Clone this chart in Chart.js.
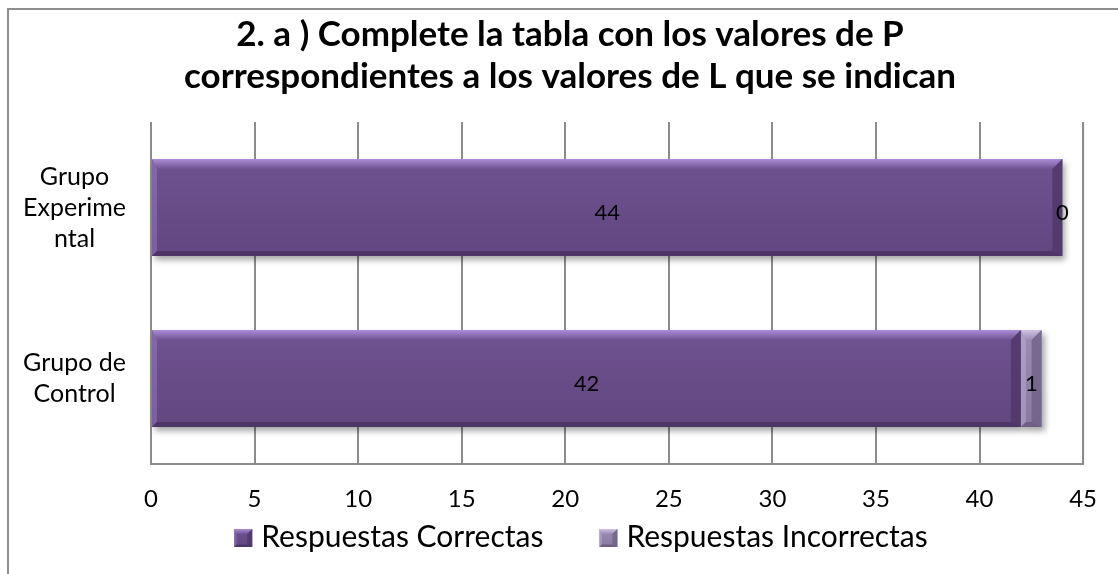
<!DOCTYPE html>
<html>
<head>
<meta charset="utf-8">
<script src="https://cdn.jsdelivr.net/npm/chart.js@4.4.0/dist/chart.umd.min.js"></script>
<style>
  html, body { margin: 0; padding: 0; background: #fff; overflow: hidden; }
  #marco { position: absolute; left: 7px; top: 8px; width: 1200px; height: 700px;
           border-left: 2px solid #8e8e8e; border-top: 2px solid #8e8e8e; }
  #wrap { position: absolute; left: 0; top: 0; width: 1118px; height: 574px; }
</style>
</head>
<body>
<div id="marco"></div>
<div id="wrap"><canvas id="grafico" width="1118" height="574"></canvas></div>
<script>
var grupos = [["Grupo", "Experime", "ntal"], ["Grupo de", "Control"]];
var correctas = [44, 42];
var incorrectas = [0, 1];
var titulo = ["2. a ) Complete la tabla con los valores de P", "correspondientes a los valores de L que se indican"];
var fuente = "Lato, 'Open Sans', sans-serif";

// colores: base, bisel claro, bisel oscuro
var tonos = [
    { base: "#6f5291", luz: "#ab8dd9", sombra: "#4d3566" },
    { base: "#9c8bb3", luz: "#cfc2e2", sombra: "#6e5f85" }
];

function biselar(ctx, l, tp, r, b, t, bv) {
    var w = r - l, h = b - tp;
    if (w < 1) return;
    bv = Math.min(bv, w / 2, h / 2);
    var grad = ctx.createLinearGradient(0, tp, 0, b);
    grad.addColorStop(0, t.base);
    grad.addColorStop(1, t.sombra);
    ctx.save();
    ctx.fillStyle = t.base;
    ctx.fillRect(l, tp, w, h);
    ctx.globalAlpha = 0.4;
    ctx.fillStyle = grad;
    ctx.fillRect(l, tp, w, h);
    // arriba
    var gl = ctx.createLinearGradient(0, tp, 0, tp + bv);
    gl.addColorStop(0, t.luz);
    gl.addColorStop(1, t.base);
    ctx.globalAlpha = 1;
    ctx.fillStyle = gl;
    ctx.beginPath();
    ctx.moveTo(l, tp); ctx.lineTo(r, tp); ctx.lineTo(r - bv, tp + bv); ctx.lineTo(l + bv / 2, tp + bv);
    ctx.closePath(); ctx.fill();
    // izquierda
    ctx.globalAlpha = 0.35;
    ctx.fillStyle = t.luz;
    ctx.beginPath();
    ctx.moveTo(l, tp); ctx.lineTo(l + bv / 2, tp + bv); ctx.lineTo(l + bv / 2, b - bv / 2); ctx.lineTo(l, b);
    ctx.closePath(); ctx.fill();
    // abajo y derecha
    ctx.globalAlpha = 1;
    ctx.fillStyle = t.sombra;
    ctx.beginPath();
    ctx.moveTo(l, b); ctx.lineTo(r, b); ctx.lineTo(r - bv, b - bv / 2); ctx.lineTo(l + bv / 2, b - bv / 2);
    ctx.closePath(); ctx.fill();
    ctx.globalAlpha = 0.75;
    ctx.beginPath();
    ctx.moveTo(r, tp); ctx.lineTo(r, b); ctx.lineTo(r - bv, b - bv / 2); ctx.lineTo(r - bv, tp + bv);
    ctx.closePath(); ctx.fill();
    ctx.restore();
}

var barras3d = {
    id: "barras3d",
    afterLayout: function (chart) {
        // el titulo va centrado sobre el marco, no sobre todo el lienzo
        chart.titleBlock.left = 22;
        chart.titleBlock.right = chart.width;
    },
    beforeDraw: function (chart) {
        // marco del area de trazado
        var a = chart.chartArea, ctx = chart.ctx;
        ctx.save();
        ctx.strokeStyle = "#8c8c8c";
        ctx.lineWidth = 2;
        ctx.beginPath();
        ctx.moveTo(a.left, a.top); ctx.lineTo(a.left, a.bottom);
        ctx.lineTo(a.right, a.bottom); ctx.lineTo(a.right, a.top);
        ctx.stroke();
        ctx.restore();
    },
    beforeDatasetsDraw: function (chart) {
        var ctx = chart.ctx;
        ctx.save();
        ctx.shadowColor = "rgba(0,0,0,0.35)";
        ctx.shadowBlur = 6;
        ctx.shadowOffsetX = 3;
        ctx.shadowOffsetY = 4;
        ctx.fillStyle = "#ffffff";
        chart.data.datasets.forEach(function (ds, i) {
            chart.getDatasetMeta(i).data.forEach(function (bar) {
                var p = bar.getProps(["x", "y", "base", "height"], true);
                var l = Math.min(p.x, p.base), r = Math.max(p.x, p.base);
                if (r - l < 1) return;
                ctx.fillRect(l, p.y - p.height / 2, r - l, p.height);
            });
        });
        ctx.restore();
    },
    afterDatasetsDraw: function (chart) {
        var ctx = chart.ctx;
        chart.data.datasets.forEach(function (ds, i) {
            chart.getDatasetMeta(i).data.forEach(function (bar) {
                var p = bar.getProps(["x", "y", "base", "height"], true);
                var l = Math.min(p.x, p.base), r = Math.max(p.x, p.base);
                biselar(ctx, l, p.y - p.height / 2, r, p.y + p.height / 2, tonos[i], 10);
            });
        });
        // etiquetas de valor
        ctx.save();
        ctx.fillStyle = "#000";
        ctx.font = "22px " + fuente;
        ctx.textAlign = "center";
        ctx.textBaseline = "middle";
        chart.data.datasets.forEach(function (ds, i) {
            chart.getDatasetMeta(i).data.forEach(function (bar, j) {
                var p = bar.getProps(["x", "y", "base"], true);
                ctx.fillText(String(ds.data[j]), (p.x + p.base) / 2, p.y + 5);
            });
        });
        ctx.restore();
    },
    afterDraw: function (chart) {
        // leyenda inferior
        var ctx = chart.ctx;
        var caja = 18, hueco = 9, sep = 56, yc = 537;
        ctx.save();
        ctx.font = "30px " + fuente;
        ctx.textBaseline = "middle";
        ctx.fillStyle = "#000";
        var items = chart.data.datasets.map(function (ds, i) {
            return { texto: ds.label, ancho: ctx.measureText(ds.label).width, tono: tonos[i] };
        });
        var total = -sep;
        items.forEach(function (it) { total += caja + hueco + it.ancho + sep; });
        var x = 581 - total / 2;
        items.forEach(function (it) {
            biselar(ctx, x, yc - caja / 2 + 1, x + caja, yc + caja / 2 + 1, it.tono, 5);
            ctx.fillStyle = "#000";
            ctx.fillText(it.texto, x + caja + hueco, yc);
            x += caja + hueco + it.ancho + sep;
        });
        ctx.restore();
    }
};

var ctx = document.getElementById("grafico");
var grafico = new Chart(ctx, {
    type: "bar",
    data: {
        labels: grupos,
        datasets: [
            { label: "Respuestas Correctas", data: correctas, backgroundColor: "rgba(0,0,0,0)" },
            { label: "Respuestas Incorrectas", data: incorrectas, backgroundColor: "rgba(0,0,0,0)" }
        ]
    },
    options: {
        indexAxis: "y",
        responsive: false,
        maintainAspectRatio: false,
        animation: false,
        layout: { padding: { left: 0, right: 34, top: 0, bottom: 44 } },
        datasets: { bar: { categoryPercentage: 0.567, barPercentage: 1 } },
        scales: {
            x: {
                stacked: true,
                min: 0,
                max: 45,
                ticks: { stepSize: 5, color: "#000", padding: 21, font: { family: fuente, size: 24 } },
                grid: { color: "#8c8c8c", lineWidth: 2, drawTicks: false },
                border: { display: false },
                afterFit: function (s) { s.height = 66; }
            },
            y: {
                stacked: true,
                ticks: { color: "#000", crossAlign: "center", padding: 17, font: { family: fuente, size: 25, lineHeight: "31px" } },
                grid: { display: false },
                border: { display: false },
                afterFit: function (s) { s.width = 151; }
            }
        },
        plugins: {
            title: {
                display: true,
                text: titulo,
                color: "#000",
                font: { family: fuente, size: 35, weight: "bold", lineHeight: 1.214 },
                padding: { top: 13, bottom: 24 }
            },
            legend: { display: false },
            tooltip: { enabled: false }
        }
    },
    plugins: [barras3d]
});
</script>
</body>
</html>
